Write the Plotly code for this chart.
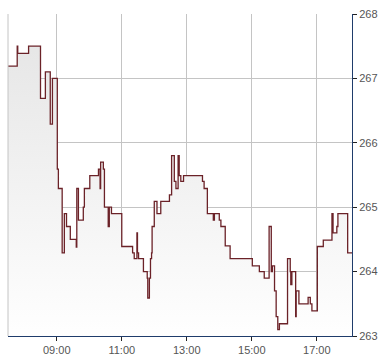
import plotly.graph_objects as go

day = "2024-01-02 "
times = ["07:30", "07:47", "07:48", "08:08", "08:30", "08:39", "08:48", "08:52",
         "09:01", "09:03", "09:10", "09:14", "09:18", "09:25", "09:36", "09:37",
         "09:40", "09:49", "09:51", "10:01", "10:17", "10:20", "10:21", "10:26",
         "10:28", "10:35", "10:37", "10:41", "11:00", "11:20", "11:23", "11:28",
         "11:29", "11:31", "11:40", "11:47", "11:48", "11:51", "11:53", "11:55",
         "11:56", "12:00", "12:05", "12:12", "12:28", "12:32", "12:37", "12:40",
         "12:44", "12:46", "12:48", "12:49", "12:54", "13:29", "13:32", "13:38",
         "13:49", "13:51", "14:00", "14:03", "14:11", "14:20", "15:01", "15:14",
         "15:23", "15:32", "15:36", "15:38", "15:42", "15:45", "15:48", "15:51",
         "16:06", "16:11", "16:12", "16:14", "16:21", "16:22", "16:27", "16:44",
         "16:48", "16:51", "17:01", "17:12", "17:28", "17:30", "17:37", "17:39",
         "17:57", "18:05"]
prices = [267.19, 267.50, 267.39, 267.50, 266.69, 267.10, 266.29, 267.00,
          265.59, 265.29, 264.29, 264.90, 264.70, 264.50, 264.38, 265.29,
          264.80, 265.00, 265.29, 265.49, 265.59, 265.29, 265.70, 265.59,
          265.00, 264.70, 265.00, 264.90, 264.39, 264.29, 264.20, 264.60,
          264.29, 264.20, 264.00, 263.90, 263.59, 263.90, 264.20, 264.29,
          264.70, 265.09, 264.90, 265.09, 265.19, 265.80, 265.40, 265.29,
          265.80, 265.49, 265.49, 265.40, 265.49, 265.40, 265.29, 264.90,
          264.80, 264.90, 264.80, 264.70, 264.40, 264.20, 264.09, 264.00,
          263.90, 264.70, 264.00, 264.09, 263.70, 263.30, 263.10, 263.19,
          264.20, 264.00, 263.80, 264.00, 263.30, 263.70, 263.50, 263.60,
          263.50, 263.39, 264.39, 264.49, 264.90, 264.60, 264.70, 264.90,
          264.29, 264.29]
x_range = ["07:30", "18:05"]
y_ticks = [263, 264, 265, 266, 267, 268]

x = [day + t for t in times]

fig = go.Figure()
fig.add_trace(go.Scatter(
    x=x, y=prices, mode="lines",
    line=dict(color="#6b2228", width=1.3, shape="hv"),
    fill="tozeroy",
    fillgradient=dict(type="vertical",
                      colorscale=[[0, "#ffffff"], [1, "#e4e4e4"]],
                      start=263, stop=268),
    hoverinfo="skip",
))

fig.update_layout(
    width=390, height=364,
    margin=dict(l=8, r=38, t=11, b=24),
    paper_bgcolor="white", plot_bgcolor="white",
    showlegend=False,
    font=dict(family="Liberation Sans, Arial, sans-serif", size=11, color="#555555"),
    xaxis=dict(
        type="date", range=[day + x_range[0], day + x_range[1]],
        tick0=day + "09:00", dtick=2 * 3600 * 1000, tickformat="%H:%M",
        showgrid=True, gridcolor="#c4c4c4", gridwidth=1,
        showline=True, linecolor="#1f3c6b", linewidth=1,
        ticks="outside", ticklen=4, tickcolor="#222222",
        zeroline=False, fixedrange=True,
    ),
    yaxis=dict(
        side="right", range=[263, 268], tickvals=y_ticks,
        showgrid=True, gridcolor="#c4c4c4", gridwidth=1,
        showline=True, linecolor="#1f3c6b", linewidth=1,
        ticks="outside", ticklen=4, tickcolor="#222222",
        zeroline=False, fixedrange=True,
    ),
    shapes=[dict(type="line", xref="paper", yref="paper", x0=0, x1=0, y0=0, y1=1,
                 line=dict(color="#c4c4c4", width=1))],
)

fig.write_html("out.html")
